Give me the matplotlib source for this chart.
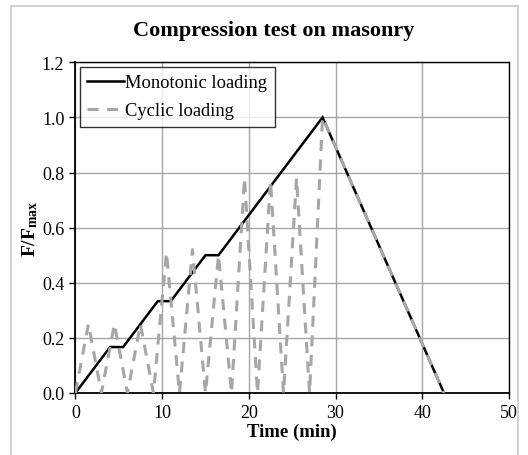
import numpy as np
import matplotlib
matplotlib.use('Agg')
import matplotlib.pyplot as plt
from matplotlib.patches import Rectangle

plt.rcParams['font.family'] = ['Liberation Serif', 'DejaVu Serif']
plt.rcParams['mathtext.fontset'] = 'custom'
plt.rcParams['mathtext.rm'] = 'Liberation Serif'
plt.rcParams['mathtext.bf'] = 'Liberation Serif:bold'

# ---------------- data
mono_t = [0, 4, 5.5, 9.5, 11, 15, 16.5, 28.5, 42.5]
mono_f = [0, 0.1667, 0.1667, 0.3333, 0.3333, 0.5, 0.5, 1.0, 0.0]

cyc_t = [0, 1.5, 3, 4.5, 6, 7.5, 9, 10.5, 12, 13.5, 15, 16.5, 18,
         19.5, 21, 22.5, 24, 25.5, 27, 28.5, 42.5]
cyc_f = [0, 0.25, 0, 0.25, 0, 0.25, 0, 0.51, 0, 0.52, 0, 0.50, 0,
         0.78, 0, 0.77, 0, 0.78, 0, 1.0, 0.0]

xticks = np.arange(0, 51, 10)
yticks = np.arange(0, 1.21, 0.2)

# ---------------- figure
fig = plt.figure(figsize=(5.28, 4.56), dpi=100)
fig.patches.append(Rectangle((11/528, -0.1), (518-11)/528, 1.1 - 7/456,
                             transform=fig.transFigure, fill=False,
                             edgecolor='#c8c8c8', linewidth=1.2))
ax = fig.add_axes([75.4/528, 1-394/456, (509-75.4)/528, (394-63.3)/456])

ax.plot(mono_t, mono_f, color='black', linewidth=1.8, label='Monotonic loading',
        solid_joinstyle='miter', zorder=3)
cl, = ax.plot(cyc_t, cyc_f, color='#a6a6a6', linewidth=2.2, label='Cyclic loading',
              dash_capstyle='butt', zorder=4)
cl.set_dashes([3.6, 2.8])

ax.set_xlim(0, 50)
ax.set_ylim(0, 1.2)
ax.set_xticks(xticks)
ax.set_yticks(yticks)
ax.set_yticklabels(['%.1f' % v for v in yticks])
ax.grid(True, color='#a6a6a6', linewidth=1.0)
ax.set_axisbelow(True)
for s in ax.spines.values():
    s.set_linewidth(1.0)
    s.set_color('black')
ax.spines['left'].set_linewidth(1.3)
ax.spines['bottom'].set_linewidth(1.3)
ax.tick_params(direction='out', length=4, width=1, labelsize=13, pad=4)

fig.text(274/528, 1 - 31/456, 'Compression test on masonry', fontsize=16,
         fontweight='bold', ha='center', va='center')
ax.set_xlabel('Time (min)', fontsize=13.5, fontweight='bold', labelpad=1)
ax.set_ylabel(r'$\mathbf{F/F_{max}}$', fontsize=14, labelpad=1)

leg = ax.legend(loc='upper left', fontsize=13.3, frameon=True, fancybox=False,
                edgecolor='black', borderpad=0.4, handlelength=2.0,
                handletextpad=0.05, borderaxespad=0.25, labelspacing=0.6)
leg.get_frame().set_linewidth(1.0)

fig.savefig('out.png', dpi=100)
